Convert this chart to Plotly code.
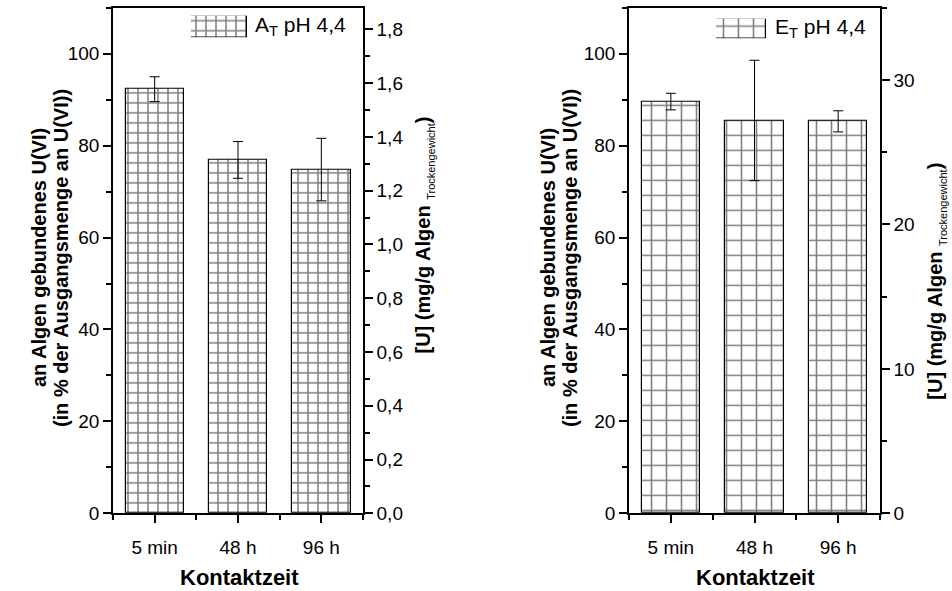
import plotly.graph_objects as go

# ---------------- data ----------------
categories = ["5 min", "48 h", "96 h"]
x_pos = [0, 1, 2]

a_values = [92.3, 76.9, 74.8]      # A_T pH 4,4  (% of initial U(VI))
a_errors = [2.7, 4.0, 6.8]

e_values = [89.6, 85.5, 85.3]      # E_T pH 4,4
e_errors = [1.8, 13.1, 2.3]

a_label = "A<sub>T</sub> pH 4,4"
e_label = "E<sub>T</sub> pH 4,4"

left_pct_range = [0, 110]
a_mg_range = [0, 1.88]
e_mg_range = [0, 35]

# ---------------- layout helpers ----------------
W, H = 952, 591
FONT = "Liberation Sans, Arial, sans-serif"
TICK_SIZE = 19
TITLE_SIZE = 20


def px_x(p):
    return p / W


def px_y(p):
    return (H - p) / H


ydom = [px_y(523), px_y(8)]

fig = go.Figure()

A_PAT = dict(shape="+", size=10, solidity=0.28, fgcolor="black", bgcolor="white")
E_PAT = dict(shape="+", size=15, solidity=0.2, fgcolor="black", bgcolor="white")


def bar_trace(vals, errs, xa, ya, pat):
    return go.Bar(
        x=x_pos, y=vals, width=0.7, xaxis=xa, yaxis=ya,
        marker=dict(color="white", line=dict(color="black", width=1.2), pattern=pat),
        error_y=dict(type="data", array=errs, color="black", thickness=1, width=5),
        showlegend=False, hoverinfo="skip",
    )


fig.add_trace(bar_trace(a_values, a_errors, "x", "y", A_PAT))
fig.add_trace(bar_trace(e_values, e_errors, "x2", "y3", E_PAT))

# invisible traces to bind the secondary (mg/g) axes
fig.add_trace(go.Scatter(x=[None], y=[None], xaxis="x", yaxis="y2", showlegend=False, hoverinfo="skip"))
fig.add_trace(go.Scatter(x=[None], y=[None], xaxis="x2", yaxis="y4", showlegend=False, hoverinfo="skip"))

# legend swatches (pattern boxes)
fig.add_trace(go.Bar(x=[0], y=[1], width=1, xaxis="x5", yaxis="y5", showlegend=False, hoverinfo="skip",
                     marker=dict(color="white", line=dict(color="black", width=1.2), pattern=A_PAT)))
fig.add_trace(go.Bar(x=[0], y=[1], width=1, xaxis="x6", yaxis="y6", showlegend=False, hoverinfo="skip",
                     marker=dict(color="white", line=dict(color="black", width=1.2), pattern=E_PAT)))

tickfont = dict(family=FONT, size=TICK_SIZE, color="black")
LW = 1.5

xcommon = dict(range=[-0.5, 2.5], tickmode="array", tickvals=x_pos, ticktext=categories,
               ticks="outside", ticklen=8, tickwidth=LW, tickcolor="black", ticklabelstandoff=8,
               showline=True, linewidth=LW, linecolor="black", mirror=True,
               showgrid=False, zeroline=False, tickfont=tickfont, fixedrange=True,
               minor=dict(tickmode="array", tickvals=[-0.5, 0.5, 1.5, 2.5], ticks="outside",
                          ticklen=5, tickwidth=LW, tickcolor="black"))

ycommon = dict(ticks="outside", ticklen=8, tickwidth=LW, tickcolor="black",
               showline=True, linewidth=LW, linecolor="black",
               showgrid=False, zeroline=False, tickfont=tickfont, fixedrange=True)

fig.update_layout(
    width=W, height=H, margin=dict(l=0, r=0, t=0, b=0),
    paper_bgcolor="white", plot_bgcolor="white",
    separators=",.", showlegend=False, bargap=0,
    font=dict(family=FONT, color="black"),
    xaxis=dict(domain=[px_x(113), px_x(363)], anchor="y", **xcommon),
    xaxis2=dict(domain=[px_x(629), px_x(880)], anchor="y3", **xcommon),
    yaxis=dict(domain=ydom, anchor="x", range=left_pct_range, dtick=20,
               minor=dict(dtick=10, ticks="outside", ticklen=5, tickwidth=LW, tickcolor="black"),
               **ycommon),
    yaxis2=dict(overlaying="y", side="right", anchor="x", range=a_mg_range, dtick=0.2,
                tickformat=".1f",
                minor=dict(dtick=0.1, ticks="outside", ticklen=5, tickwidth=LW, tickcolor="black"),
                **ycommon),
    yaxis3=dict(domain=ydom, anchor="x2", range=left_pct_range, dtick=20,
                minor=dict(dtick=10, ticks="outside", ticklen=5, tickwidth=LW, tickcolor="black"),
                **ycommon),
    yaxis4=dict(overlaying="y3", side="right", anchor="x2", range=e_mg_range, dtick=10,
                minor=dict(dtick=5, ticks="outside", ticklen=5, tickwidth=LW, tickcolor="black"),
                **ycommon),
    xaxis5=dict(domain=[px_x(191), px_x(247)], anchor="y5", range=[-0.5, 0.5], visible=False, fixedrange=True),
    yaxis5=dict(domain=[px_y(38), px_y(16)], anchor="x5", range=[0, 1], visible=False, fixedrange=True),
    xaxis6=dict(domain=[px_x(716), px_x(766)], anchor="y6", range=[-0.5, 0.5], visible=False, fixedrange=True),
    yaxis6=dict(domain=[px_y(39), px_y(19)], anchor="x6", range=[0, 1], visible=False, fixedrange=True),
)

ann = []


def add_text(text, x, y, size, angle=0, xanchor="center", yanchor="middle", yshift=0):
    ann.append(dict(text=text, x=x, y=y, xref="paper", yref="paper", showarrow=False,
                    textangle=angle, xanchor=xanchor, yanchor=yanchor, yshift=yshift,
                    font=dict(family=FONT, size=size, color="black")))


# y titles (percentage)
add_text("<b>an Algen gebundenes U(VI)</b>", px_x(39), px_y(263), TITLE_SIZE, -90)
add_text("<b>(in % der Ausgangsmenge an U(VI))</b>", px_x(61), px_y(263), TITLE_SIZE, -90)
add_text("<b>an Algen gebundenes U(VI)</b>", px_x(548), px_y(263), TITLE_SIZE, -90)
add_text("<b>(in % der Ausgangsmenge an U(VI))</b>", px_x(570), px_y(263), TITLE_SIZE, -90)

# y titles (mg/g)
mg_title = "<b>[U] (mg/g Algen </b><sub><span style='font-size:11px'>Trockengewicht</span></sub><b>)</b>"
add_text(mg_title, px_x(424), px_y(240), TITLE_SIZE, -90)
add_text(mg_title, px_x(936), px_y(287), TITLE_SIZE, -90)

# x titles
add_text("<b>Kontaktzeit</b>", px_x(239), px_y(578), 22, yshift=-10)
add_text("<b>Kontaktzeit</b>", px_x(755), px_y(578), 22, yshift=-10)

# legend labels
add_text(a_label, px_x(253), px_y(27), 21, xanchor="left")
add_text(e_label, px_x(773), px_y(29), 21, xanchor="left")

fig.update_layout(annotations=ann)

fig.write_html("out.html")
